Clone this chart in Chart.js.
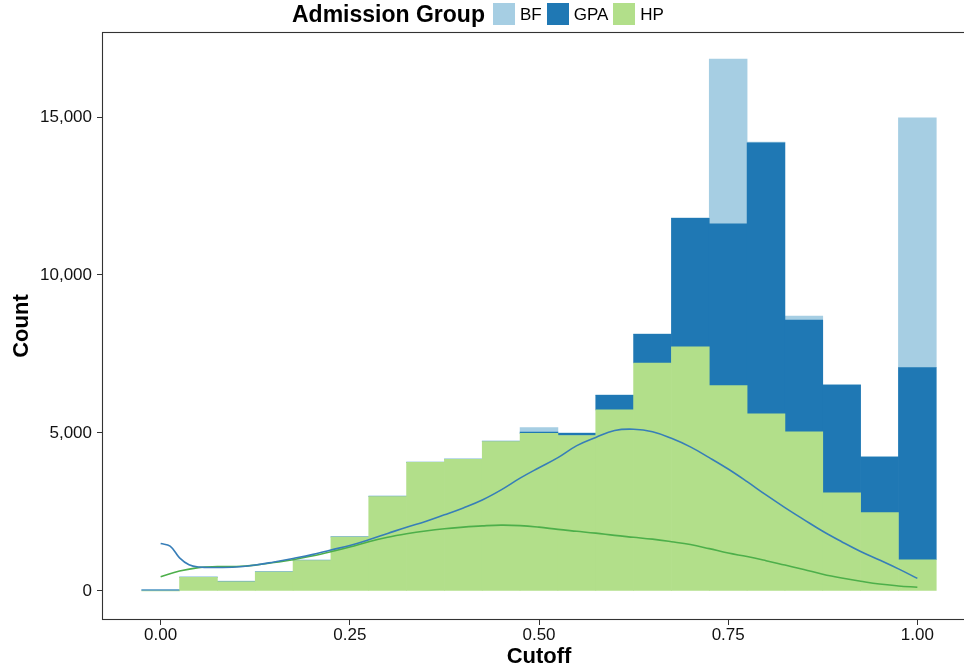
<!DOCTYPE html>
<html>
<head>
<meta charset="utf-8">
<script src="https://cdn.jsdelivr.net/npm/chart.js@4.4.1/dist/chart.umd.min.js"></script>
<style>
html,body{margin:0;padding:0;background:#fff;overflow:hidden;width:964px;height:670px}
#wrap{position:relative;width:976px;height:670px}
#chart{position:absolute;left:0;top:0}
#legend{position:absolute;top:0;left:292px;height:28px;display:flex;align-items:center;font-family:"Liberation Sans",Arial,sans-serif;color:#000;white-space:nowrap}
#legend .ttl{font-weight:bold;font-size:23px;margin-right:8px;line-height:1}
#legend .box{width:22px;height:22px;margin-right:5px}
#legend .lab{font-size:17px;margin-right:5px;line-height:1}
</style>
</head>
<body>
<div id="wrap">
<canvas id="chart" width="976" height="670"></canvas>
<div id="legend"></div>
</div>
<script>
// ---- data ----
const binCenters = [0.00,0.05,0.10,0.15,0.20,0.25,0.30,0.35,0.40,0.45,0.50,0.55,0.60,0.65,0.70,0.75,0.80,0.85,0.90,0.95,1.00];
const hpCounts  = [0,435,290,600,965,1710,2990,4070,4170,4730,4990,4920,5730,7215,7730,6500,5610,5040,3110,2480,990];
const gpaCounts = [40,0,0,0,0,0,0,0,0,0,40,70,460,905,4060,5120,8570,3535,3410,1760,6080];
const bfCounts  = [0,20,25,20,20,20,20,20,20,20,140,15,15,20,20,5215,30,125,15,15,7900];

const gpaDensX = [0,0.0125,0.025,0.0375,0.05,0.075,0.10,0.125,0.15,0.175,0.20,0.225,0.25,0.275,0.30,0.325,0.35,0.375,0.40,0.425,0.45,0.475,0.50,0.525,0.55,0.575,0.60,0.625,0.65,0.675,0.70,0.725,0.75,0.775,0.80,0.825,0.85,0.875,0.90,0.925,0.95,0.975,1.00];
const gpaDensY = [1500,1420,1050,830,760,745,760,820,920,1030,1150,1300,1440,1620,1820,2020,2200,2410,2630,2880,3200,3570,3900,4220,4600,4860,5080,5120,5040,4830,4560,4220,3860,3460,3040,2640,2260,1890,1560,1250,980,700,400];
const hpDensX = [0,0.025,0.05,0.075,0.10,0.125,0.15,0.175,0.20,0.225,0.25,0.275,0.30,0.325,0.35,0.375,0.40,0.425,0.45,0.475,0.50,0.525,0.55,0.575,0.60,0.625,0.65,0.675,0.70,0.725,0.75,0.775,0.80,0.825,0.85,0.875,0.90,0.925,0.95,0.975,1.00];
const hpDensY = [450,630,740,770,775,820,900,990,1110,1245,1390,1560,1700,1810,1900,1970,2020,2060,2085,2070,2020,1950,1890,1830,1760,1700,1640,1560,1470,1340,1200,1090,960,820,680,530,410,310,220,160,117];

const groupNames  = ['BF','GPA','HP'];
const groupColors = ['#a6cee3','#1f78b4','#b2df8a'];
const xTickValues = [0,0.25,0.5,0.75,1];
const yTickValues = [0,5000,10000,15000];

// ---- legend (HTML text) ----
const lg = document.getElementById('legend');
lg.innerHTML = '<span class="ttl">Admission Group</span>' +
  groupNames.map((n,i)=>'<span class="box" style="background:'+groupColors[i]+'"></span><span class="lab">'+n+'</span>').join('');

const FAM = '"Liberation Sans", Arial, sans-serif';
Chart.defaults.font.family = FAM;

const pts = (xs, ys) => xs.map((x,i)=>({x:x, y:ys[i]}));
const barDs = (label, counts, color) => ({
  type:'bar', label, data: pts(binCenters, counts), backgroundColor: color,
  borderWidth:0, barPercentage:1, categoryPercentage:1, grouped:false,
  stack:'hist', order:1
});

const framePlugin = {
  id:'frame',
  afterDatasetsDraw(chart){
    const {ctx, chartArea:a} = chart;
    ctx.save();
    ctx.strokeStyle = '#333';
    ctx.lineWidth = 1.1;
    ctx.strokeRect(a.left+0.5, a.top+0.5, a.right-a.left-1, a.bottom-a.top-1);
    ctx.restore();
  }
};

new Chart(document.getElementById('chart'), {
  data: {
    datasets: [
      barDs('HP', hpCounts, groupColors[2]),
      barDs('GPA', gpaCounts, groupColors[1]),
      barDs('BF', bfCounts, groupColors[0]),
      {type:'line', label:'GPA density', data: pts(gpaDensX, gpaDensY), borderColor:'#377eb8', borderWidth:1.6,
       pointRadius:0, fill:false, tension:0.4, stack:'d1', order:0},
      {type:'line', label:'HP density', data: pts(hpDensX, hpDensY), borderColor:'#4daf4a', borderWidth:1.6,
       pointRadius:0, fill:false, tension:0.4, stack:'d2', order:0}
    ]
  },
  options: {
    responsive:false, animation:false, devicePixelRatio:1,
    layout:{padding:{top:32,left:0,right:0,bottom:0}},
    plugins:{legend:{display:false}, tooltip:{enabled:false}},
    scales:{
      x:{
        type:'linear', min:-0.0775, max:1.0775, offset:false,
        afterBuildTicks: s => { s.ticks = xTickValues.map(v=>({value:v})); },
        afterFit: s => { s.height = 50; },
        ticks:{callback: v => Number(v).toFixed(2), color:'#111', font:{size:17, lineHeight:1}, padding:2, maxRotation:0, autoSkip:false},
        grid:{offset:false, drawOnChartArea:false, drawTicks:true, tickLength:5, tickColor:'#333', tickWidth:1},
        border:{display:false},
        title:{display:true, text:'Cutoff', color:'#000', font:{size:22, weight:'bold'}, padding:{top:0,bottom:0}}
      },
      y:{
        type:'linear', stacked:true, min:-918, max:17690,
        afterBuildTicks: s => { s.ticks = yTickValues.map(v=>({value:v})); },
        afterFit: s => { s.width = 102; },
        ticks:{callback: v => Number(v).toLocaleString('en-US'), color:'#111', font:{size:17}, padding:5},
        grid:{drawOnChartArea:false, drawTicks:true, tickLength:5, tickColor:'#333', tickWidth:1},
        border:{display:false},
        title:{display:true, text:'Count', color:'#000', font:{size:22, weight:'bold'}, padding:{top:9,bottom:0}}
      }
    }
  },
  plugins:[framePlugin]
});
</script>
</body>
</html>
